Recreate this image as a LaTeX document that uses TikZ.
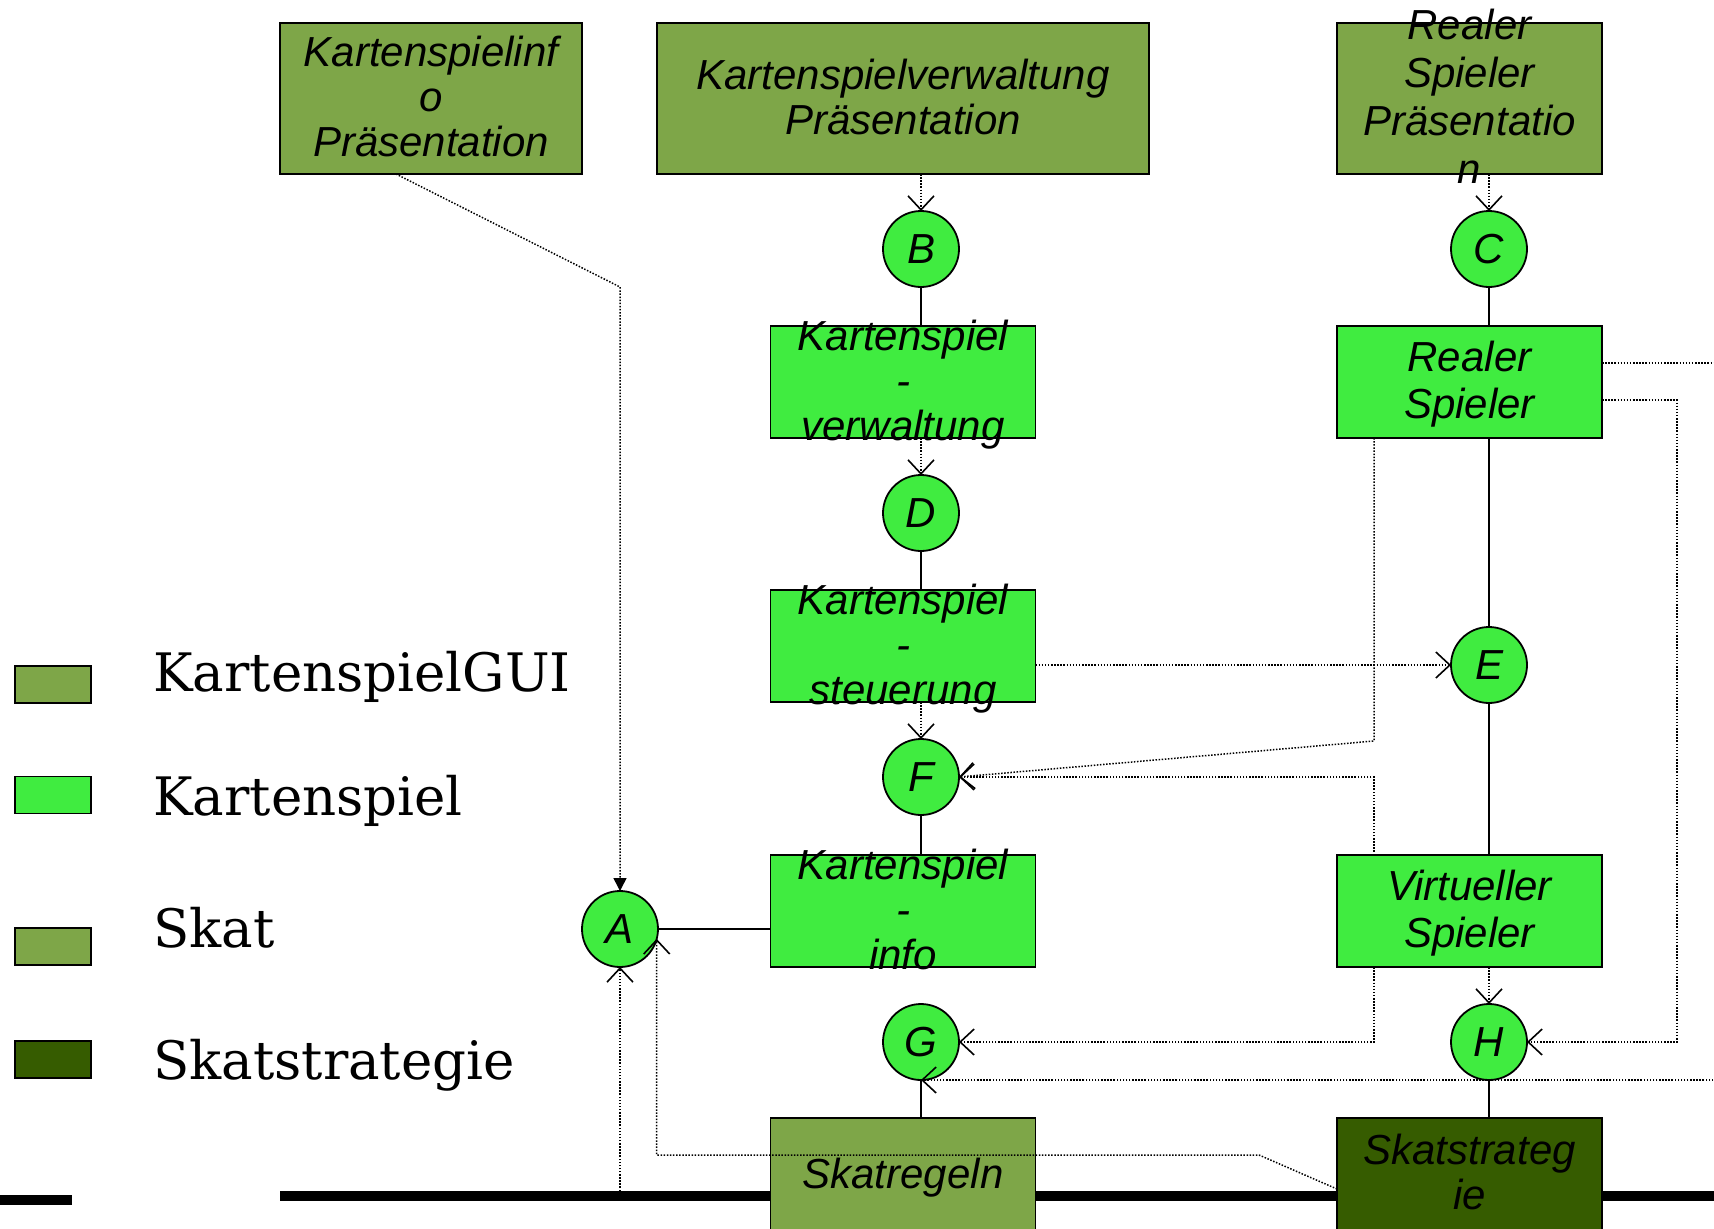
\documentclass[tikz,border=0pt]{standalone}
\usepackage{fontspec}
\newfontfamily\boxfont{Liberation Sans}
\newfontfamily\legfont{DejaVu Serif}
\usetikzlibrary{positioning,arrows.meta,calc}
\definecolor{guigreen}{RGB}{126,166,72}
\definecolor{kartgreen}{RGB}{64,236,64}
\definecolor{stratgreen}{RGB}{54,92,0}

\begin{document}
\begin{tikzpicture}[x=1pt, y=-1pt, >={Straight Barb[length=14pt,width=26pt,line width=1.6pt]},
    comp/.style={draw, line width=1.8pt, minimum width=265pt, minimum height=112pt, inner sep=0pt, outer sep=0pt},
    txt/.style={font=\boxfont\itshape\fontsize{42}{45}\selectfont, align=center, inner sep=0pt, yshift=-5pt,
      execute at begin node=\strut, execute at end node=\strut},
    port/.style={circle, draw, line width=1.8pt, fill=kartgreen, minimum size=76pt, inner sep=0pt, outer sep=0pt,
      font=\boxfont\itshape\fontsize{42}{45}\selectfont},
    wire/.style={line width=1.6pt},
    dep/.style={line width=1.5pt, dash pattern=on 1.5pt off 1.6pt, ->},
    legbox/.style={draw, line width=1.6pt, minimum width=76pt, minimum height=37pt, inner sep=0pt},
    legtxt/.style={font=\legfont\fontsize{53}{60}\selectfont, anchor=base west, inner sep=0pt}]
  \useasboundingbox (0,0) rectangle (1714,1229);

  % bus
  \draw[line width=10pt] (280,1196) -- (1720,1196);
  \draw[line width=10pt] (0,1200) -- (72,1200);

  % legend
  \node[legbox, fill=guigreen] (lgui) at (53,684.5) {};
  \node[legtxt] (lguit) at (153,691) {KartenspielGUI};
  \node[legbox, fill=kartgreen] (lkart) at (53,795) {};
  \node[legtxt] (lkartt) at (153,815) {Kartenspiel};
  \node[legbox, fill=guigreen] (lskat) at (53,946.5) {};
  \node[legtxt] (lskatt) at (153,947) {Skat};
  \node[legbox, fill=stratgreen] (lstrat) at (53,1059.5) {};
  \node[legtxt] (lstratt) at (153,1079) {Skatstrategie};

  % presentation row
  \node[comp, fill=guigreen, minimum width=302pt, minimum height=151pt,
    label={[txt]center:{Kartenspielinf\\o\\Präsentation}}] (kip) at (431,98.5) {};
  \node[comp, fill=guigreen, minimum width=492pt, minimum height=151pt,
    label={[txt]center:{Kartenspielverwaltung\\Präsentation}}] (kvp) at (903,98.5) {};
  \node[comp, fill=guigreen, minimum height=151pt,
    label={[txt, font=\boxfont\itshape\fontsize{42}{48}\selectfont]center:{Realer\\Spieler\\Präsentatio\\n}}] (rsp) at (1469.5,98.5) {};

  % middle column
  \node[port, below=37pt of kvp, xshift=18pt] (B) {B};
  \node[comp, fill=kartgreen, below=39pt of B, xshift=-18pt,
    label={[txt]center:{Kartenspiel\\-\\verwaltung}}] (kv) {};
  \node[port, below=37pt of kv, xshift=18pt] (D) {D};
  \node[comp, fill=kartgreen, below=39pt of D, xshift=-18pt,
    label={[txt]center:{Kartenspiel\\-\\steuerung}}] (ks) {};
  \node[port, below=37pt of ks, xshift=18pt] (F) {F};
  \node[comp, fill=kartgreen, below=40pt of F, xshift=-18pt,
    label={[txt]center:{Kartenspiel\\-\\info}}] (ki) {};
  \node[port, below=37pt of ki, xshift=18pt] (G) {G};
  \node[comp, fill=guigreen, below=38pt of G, xshift=-18pt,
    label={[txt]center:{Skatregeln}}] (sr) {};

  % right column
  \node[port, below=37pt of rsp, xshift=19.5pt] (C) {C};
  \node[comp, fill=kartgreen, below=39pt of C, xshift=-19.5pt,
    label={[txt, font=\boxfont\itshape\fontsize{42}{47}\selectfont]center:{Realer\\Spieler}}] (rs) {};
  \node[port] (E) at (C |- 0,665) {E};
  \node[comp, fill=kartgreen, label={[txt, font=\boxfont\itshape\fontsize{42}{47}\selectfont]center:{Virtueller\\Spieler}}] (vs) at (rs |- ki) {};
  \node[port] (H) at (C |- G) {H};
  \node[comp, fill=stratgreen, label={[txt]center:{Skatstrateg\\ie}}] (sst) at (rs |- sr) {};

  \node[port] (A) at (620,929) {A};

  % bends
  \coordinate (kbend) at (620,287);
  \coordinate (lbend) at (1374,741);
  \coordinate (rbend) at (1677,400);
  \coordinate (obend) at (1730,363);
  \coordinate (sbend) at (1259,1155);
  \coordinate (abase) at (620,1191);

  % solid links
  \draw[wire] (B) -- (B |- kv.north);
  \draw[wire] (D) -- (D |- ks.north);
  \draw[wire] (F) -- (F |- ki.north);
  \draw[wire] (G) -- (G |- sr.north);
  \draw[wire] (C) -- (C |- rs.north);
  \draw[wire] (E) -- (E |- rs.south);
  \draw[wire] (E) -- (E |- vs.north);
  \draw[wire] (H) -- (H |- sst.north);
  \draw[wire] (A.east) -- (A.east -| ki.west);

  % dependencies
  \draw[dep] (kvp.south -| B) -- (B);
  \draw[dep] (rsp.south -| C) -- (C);
  \draw[dep] (kv.south -| D) -- (D);
  \draw[dep] (ks.south -| F) -- (F);
  \draw[dep] (vs.south -| H) -- (H);
  \draw[dep, -{Triangle[length=13pt,width=13pt]}] ($(kip.south)+(-35,0)$) -- (kbend) -- (A);
  \draw[dep] (E -| ks.east) -- (E);
  \draw[dep] (rs.south -| lbend) -- (lbend) -- (F.east);
  \draw[dep] (vs.north -| lbend) |- (F.east);
  \draw[dep] (vs.south -| lbend) |- (G.east);
  \draw[dep] (rs.east |- rbend) -- (rbend) |- (H.east);
  \draw[dep] (rs.east |- obend) -- (obend) |- (G.south);
  \draw[dep] ($(sst.west)+(0,15)$) -- (sbend) -| (A.-15);
  \draw[dep] (abase) -- (A);
\end{tikzpicture}
\end{document}
